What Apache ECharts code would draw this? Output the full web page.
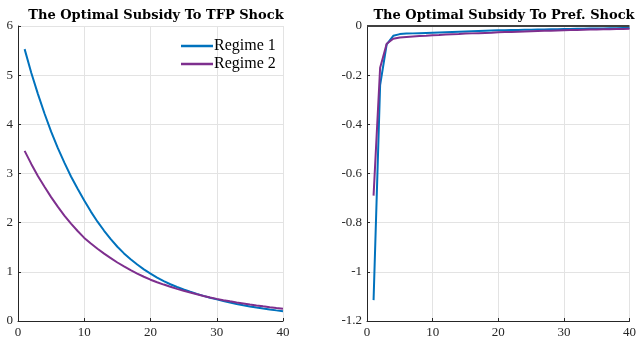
<!DOCTYPE html>
<html>
<head>
<meta charset="utf-8">
<script src="https://cdn.jsdelivr.net/npm/echarts@6/dist/echarts.min.js"></script>
<style>
  html, body { margin: 0; padding: 0; background: #fff; }
  #chart { width: 639px; height: 339px; }
</style>
</head>
<body>
<div id="chart"></div>
<script>
// horizons (periods after the shock)
const horizon = [1, 2, 3, 4, 5, 6, 7, 8, 9, 10,
  11, 12, 13, 14, 15, 16, 17, 18, 19, 20,
  21, 22, 23, 24, 25, 26, 27, 28, 29, 30,
  31, 32, 33, 34, 35, 36, 37, 38, 39, 40]

// optimal subsidy, TFP shock
const tfpRegime1 = [5.53, 5.05, 4.62, 4.22, 3.85, 3.52, 3.22, 2.94, 2.69, 2.45,
  2.225, 2.02, 1.835, 1.665, 1.51, 1.375, 1.255, 1.148, 1.051, 0.963,
  0.884, 0.812, 0.747, 0.691, 0.64, 0.594, 0.551, 0.511, 0.474, 0.44,
  0.407, 0.376, 0.347, 0.321, 0.296, 0.274, 0.253, 0.234, 0.216, 0.20]
const tfpRegime2 = [3.46, 3.195, 2.95, 2.73, 2.52, 2.325, 2.145, 1.98, 1.83, 1.69,
  1.575, 1.47, 1.37, 1.28, 1.19, 1.11, 1.035, 0.965, 0.90, 0.84,
  0.789, 0.741, 0.696, 0.654, 0.615, 0.578, 0.543, 0.51, 0.479, 0.45,
  0.424, 0.40, 0.377, 0.356, 0.335, 0.316, 0.298, 0.281, 0.265, 0.25]

// optimal subsidy, preference shock
const prefRegime1 = [-1.115, -0.24, -0.075, -0.040, -0.033, -0.031, -0.030, -0.029, -0.028, -0.027,
  -0.026, -0.025, -0.024, -0.023, -0.022, -0.021, -0.020, -0.019, -0.018, -0.017,
  -0.017, -0.016, -0.016, -0.015, -0.015, -0.014, -0.014, -0.013, -0.013, -0.012,
  -0.012, -0.011, -0.011, -0.010, -0.010, -0.010, -0.009, -0.009, -0.008, -0.008]
const prefRegime2 = [-0.69, -0.17, -0.072, -0.052, -0.047, -0.045, -0.043, -0.041, -0.040, -0.038,
  -0.037, -0.035, -0.034, -0.033, -0.031, -0.030, -0.029, -0.028, -0.027, -0.025,
  -0.024, -0.024, -0.023, -0.022, -0.021, -0.020, -0.019, -0.019, -0.018, -0.017,
  -0.016, -0.016, -0.015, -0.014, -0.014, -0.013, -0.013, -0.012, -0.012, -0.011]

const serif = 'Liberation Serif'
const blue = '#0072BD'
const purple = '#7E2F8E'

function pairs(ys) {
  return horizon.map((x, i) => [x, ys[i]])
}

function xAx(idx) {
  return {
    type: 'value', gridIndex: idx, min: 0, max: 40, interval: 10,
    axisLine: { onZero: false, lineStyle: { color: '#262626', width: 1 } },
    axisTick: { inside: true, length: 3, lineStyle: { color: '#262626' } },
    axisLabel: { fontFamily: serif, fontSize: 13, color: '#262626', margin: 5 },
    splitLine: { show: true, lineStyle: { color: '#e3e3e3' } }
  }
}

function yAx(idx, min, max, interval) {
  return {
    type: 'value', gridIndex: idx, min: min, max: max, interval: interval,
    axisLine: { show: true, onZero: false, lineStyle: { color: '#262626', width: 1 } },
    axisTick: { show: true, inside: true, length: 3, lineStyle: { color: '#262626' } },
    axisLabel: { fontFamily: serif, fontSize: 13, color: '#262626', margin: 5 },
    splitLine: { show: true, lineStyle: { color: '#e3e3e3' } }
  }
}

function line(name, ys, color, xi, yi) {
  return {
    name: name, type: 'line', xAxisIndex: xi, yAxisIndex: yi,
    data: pairs(ys), symbol: 'none', smooth: false,
    lineStyle: { color: color, width: 2 }, itemStyle: { color: color },
    animation: false
  }
}

let myChart = echarts.init(document.getElementById('chart'))
myChart.setOption({
  animation: false,
  title: [{
    text: 'The Optimal Subsidy To TFP Shock',
    left: 151, top: 4, textAlign: 'center',
    textStyle: { fontFamily: 'DejaVu Serif', fontSize: 13, fontWeight: 'bold', color: '#000' }
  }, {
    text: 'The Optimal Subsidy To Pref. Shock',
    left: 499, top: 4, textAlign: 'center',
    textStyle: { fontFamily: 'DejaVu Serif', fontSize: 13, fontWeight: 'bold', color: '#000' }
  }],
  legend: {
    data: ['Regime 1', 'Regime 2'],
    orient: 'vertical', left: 176, top: 33,
    icon: 'rect', itemWidth: 32, itemHeight: 2.5, itemGap: 2,
    textStyle: { fontFamily: serif, fontSize: 16, color: '#000', padding: [0, 0, 0, -4] }
  },
  grid: [
    { left: 18, top: 26, width: 265, height: 296 },
    { left: 367, top: 26, width: 265, height: 296 }
  ],
  xAxis: [xAx(0), xAx(1)],
  yAxis: [yAx(0, 0, 6, 1), yAx(1, -1.2, 0, 0.2)],
  series: [
    line('Regime 1', tfpRegime1, blue, 0, 0),
    line('Regime 2', tfpRegime2, purple, 0, 0),
    Object.assign(line('Regime 1', prefRegime1, blue, 1, 1), {
      markLine: {
        silent: true, symbol: 'none', label: { show: false },
        lineStyle: { color: '#404040', width: 2, type: 'solid' },
        data: [{ yAxis: 0 }]
      }
    }),
    line('Regime 2', prefRegime2, purple, 1, 1)
  ]
})
</script>
</body>
</html>
